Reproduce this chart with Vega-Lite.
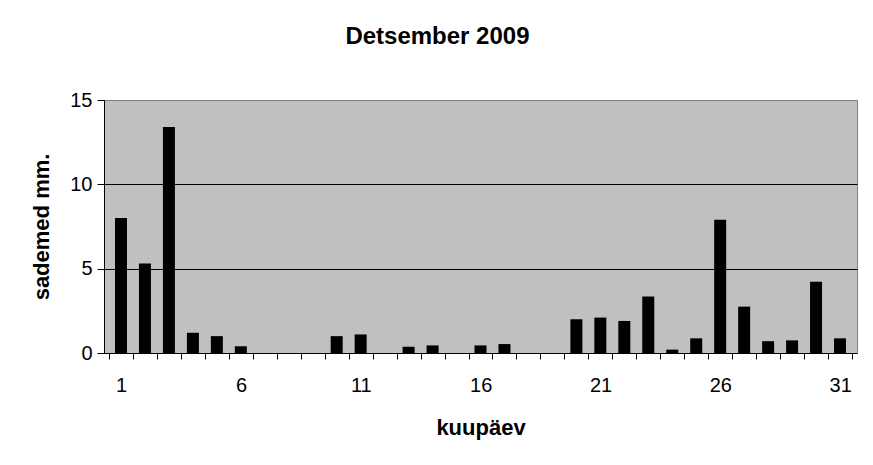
{
  "$schema": "https://vega.github.io/schema/vega-lite/v6.json",
  "autosize": "none",
  "width": 753,
  "height": 253,
  "padding": {"left": 104, "top": 100, "right": 16, "bottom": 112},
  "background": "white",
  "title": {
    "text": "Detsember 2009",
    "font": "Liberation Sans",
    "fontSize": 24,
    "fontWeight": "bold",
    "color": "black",
    "anchor": "middle",
    "frame": "bounds",
    "offset": 41,
    "dx": -10
  },
  "data": {
    "values": [
      {"day": 1, "mm": 8.0},
      {"day": 2, "mm": 5.3},
      {"day": 3, "mm": 13.4},
      {"day": 4, "mm": 1.2},
      {"day": 5, "mm": 1.0},
      {"day": 6, "mm": 0.4},
      {"day": 7, "mm": 0},
      {"day": 8, "mm": 0},
      {"day": 9, "mm": 0},
      {"day": 10, "mm": 1.0},
      {"day": 11, "mm": 1.1},
      {"day": 12, "mm": 0},
      {"day": 13, "mm": 0.37},
      {"day": 14, "mm": 0.45},
      {"day": 15, "mm": 0},
      {"day": 16, "mm": 0.45},
      {"day": 17, "mm": 0.53},
      {"day": 18, "mm": 0},
      {"day": 19, "mm": 0},
      {"day": 20, "mm": 2.0},
      {"day": 21, "mm": 2.1},
      {"day": 22, "mm": 1.9},
      {"day": 23, "mm": 3.35},
      {"day": 24, "mm": 0.2},
      {"day": 25, "mm": 0.87},
      {"day": 26, "mm": 7.9},
      {"day": 27, "mm": 2.75},
      {"day": 28, "mm": 0.7},
      {"day": 29, "mm": 0.75},
      {"day": 30, "mm": 4.23},
      {"day": 31, "mm": 0.87}
    ]
  },
  "mark": {"type": "bar", "size": 12, "color": "black"},
  "encoding": {
    "x": {
      "field": "day",
      "type": "quantitative",
      "title": "kuupäev",
      "scale": {"domain": [0.5, 31.5], "nice": false, "zero": false},
      "axis": {
        "values": [0.5, 1.5, 2.5, 3.5, 4.5, 5.5, 6.5, 7.5, 8.5, 9.5, 10.5, 11.5, 12.5, 13.5, 14.5, 15.5, 16.5, 17.5, 18.5, 19.5, 20.5, 21.5, 22.5, 23.5, 24.5, 25.5, 26.5, 27.5, 28.5, 29.5, 30.5, 31.5],
        "labelExpr": "(datum.value + 0.5) % 5 == 1 && datum.value < 31 ? '' + (datum.value + 0.5) : ''",
        "labelOffset": 12.15,
        "labelOverlap": false,
        "labelFlush": false,
        "labelPadding": 16,
        "tickSize": 6,
        "grid": false,
        "titlePadding": 22
      }
    },
    "y": {
      "field": "mm",
      "type": "quantitative",
      "title": "sademed mm.",
      "scale": {"domain": [0, 15], "nice": false},
      "axis": {
        "values": [0, 5, 10, 15],
        "tickSize": 7,
        "labelPadding": 5,
        "grid": true,
        "gridColor": {"condition": {"test": "datum.value == 15 || datum.value == 0", "value": "#808080"}, "value": "black"},
        "gridOpacity": 1,
        "titlePadding": 16
      }
    }
  },
  "config": {
    "font": "Liberation Sans",
    "view": {"fill": "#C0C0C0", "stroke": "#808080", "strokeWidth": 1},
    "axis": {
      "domainColor": "black",
      "tickColor": "black",
      "labelColor": "black",
      "titleColor": "black",
      "labelFont": "Liberation Sans",
      "titleFont": "Liberation Sans",
      "labelFontSize": 20,
      "titleFontSize": 22,
      "titleFontWeight": "bold"
    }
  }
}
